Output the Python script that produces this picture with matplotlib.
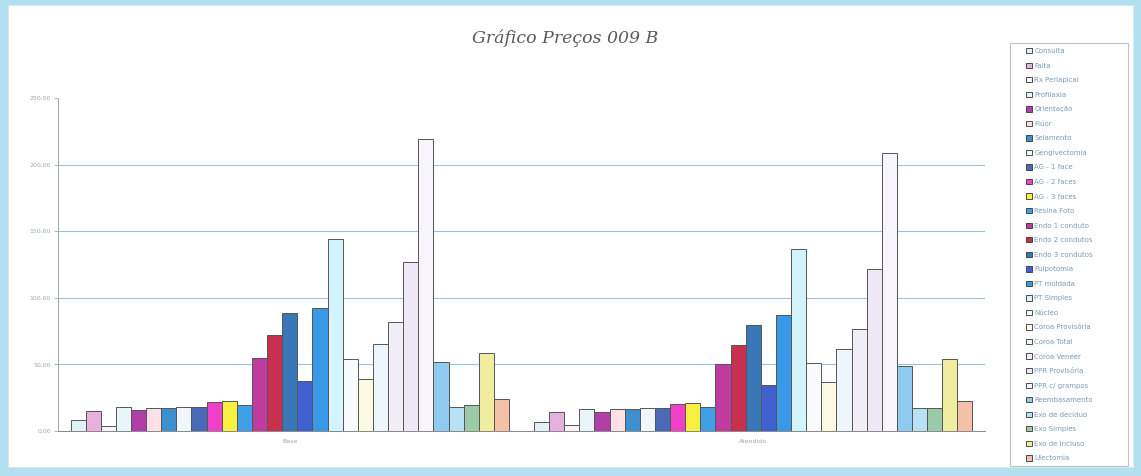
import matplotlib
matplotlib.use('Agg')
import matplotlib.pyplot as plt
from matplotlib.patches import Rectangle, Patch
import numpy as np

# data
categories = ['Base', 'Atendido']
procedures = ['Consulta', 'Falta', 'Rx Periapical', 'Profilaxia', 'Orientação', 'Flúor',
              'Selamento', 'Gengivectomia', 'AG - 1 face', 'AG - 2 faces', 'AG - 3 faces',
              'Resina Foto', 'Endo 1 conduto', 'Endo 2 condutos', 'Endo 3 condutos',
              'Pulpotomia', 'PT moldada', 'PT Simples', 'Núcleo', 'Coroa Provisória',
              'Coroa Total', 'Coroa Veneer', 'PPR Provisória', 'PPR c/ grampos',
              'Reembasamento', 'Exo de decíduo', 'Exo Simples', 'Exo de incluso', 'Ulectomia']
base = [8, 15, 4, 18, 16, 17.5, 17.5, 18.3, 18.3, 22, 22.5, 19.3, 54.6, 71.7, 88.5,
        37.6, 92.7, 144.5, 54, 39, 65, 82, 126.7, 219.3, 52, 18, 19.3, 58.9, 24.3]
atendido = [7, 13.9, 4.5, 16.6, 14.6, 16.6, 16.6, 17.6, 17.6, 20.3, 21.3, 18.3, 50, 64.6,
            79.7, 34.4, 87.2, 137, 51, 36.9, 61.7, 76.5, 121.6, 208.9, 48.8, 17, 17, 53.7, 22.5]
yticks = [0, 50, 100, 150, 200, 250]

colors = ['#dff3f7', '#e8b0dc', '#f4f4f4', '#e8f6fa', '#b040a8', '#fde0e8', '#3d8fd0',
          '#eef8fb', '#4a6ab8', '#f040c8', '#f8f040', '#3fa0e8', '#c03aa0', '#c83050',
          '#3878b8', '#4060d0', '#3a98e8', '#d4f4fc', '#f8fcfc', '#fcfae4', '#eef6fb',
          '#f2eef8', '#efe8f6', '#f8f4fb', '#8ecaf0', '#b8e2f4', '#9ccaa8', '#f0eca0', '#f4c0a8']

W, H = 1141, 476
fig = plt.figure(figsize=(W / 100, H / 100), dpi=100)
fig.patch.set_facecolor('#b3e0f0')
fig.patches.append(Rectangle((8 / W, 1 - 467 / H), 1125 / W, 462 / H, transform=fig.transFigure,
                             facecolor='white', edgecolor='#d8e8ee', linewidth=0.8, zorder=-2))

ax = fig.add_axes([58 / W, 1 - 431 / H, 927 / W, 333 / H])
ax.set_facecolor('none')

n = len(procedures)
width = 0.946 / n
x = np.arange(len(categories))
for i, name in enumerate(procedures):
    vals = [base[i], atendido[i]]
    ax.bar(x - 0.473 + width * (i + 0.5), vals, width, color=colors[i],
           edgecolor='#555555', linewidth=0.7, label=name, zorder=3)

ax.set_xlim(-0.5, 1.5)
ax.set_ylim(0, 250)
ax.set_yticks(yticks)
ax.set_yticklabels([('%.2f' % v).replace('.', ',') for v in yticks])
ax.set_xticks(x)
ax.set_xticklabels(categories)
ax.tick_params(axis='y', labelsize=4.5, colors='#9aa8b4', length=3, width=0.6, pad=2)
ax.tick_params(axis='x', labelsize=4.5, colors='#9aa8b4', length=0, pad=6)
for v in yticks[1:-1]:
    ax.axhline(v, color='#9cc4d8', linewidth=0.8, zorder=1)
for s in ['top', 'right']:
    ax.spines[s].set_visible(False)
ax.spines['left'].set_color('#9aa8b4')
ax.spines['left'].set_linewidth(0.7)
ax.spines['bottom'].set_color('#888888')
ax.spines['bottom'].set_linewidth(0.7)

fig.text(565 / W, 1 - 38 / H, 'Gráfico Preços 009 B', ha='center', va='center',
         fontsize=12.5, family='DejaVu Serif', style='italic', color='#5a5a5a')

# legend frame
fig.patches.append(Rectangle((1010 / W, 1 - 466 / H), 118 / W, 423 / H, transform=fig.transFigure,
                             facecolor='white', edgecolor='#b8c4cc', linewidth=0.8, zorder=-1))
handles = [Patch(facecolor=colors[i], edgecolor='#333333', linewidth=0.6) for i in range(n)]
leg = fig.legend(handles, procedures, loc='upper left', bbox_to_anchor=(1024 / W, 1 - 46 / H),
                 frameon=False, fontsize=5, handlelength=0.8, handleheight=0.8,
                 handletextpad=0.4, labelspacing=1.22, borderpad=0.3, borderaxespad=0)
for t in leg.get_texts():
    t.set_color('#7a9cbc')

fig.savefig('out.png', dpi=100, facecolor=fig.get_facecolor())
